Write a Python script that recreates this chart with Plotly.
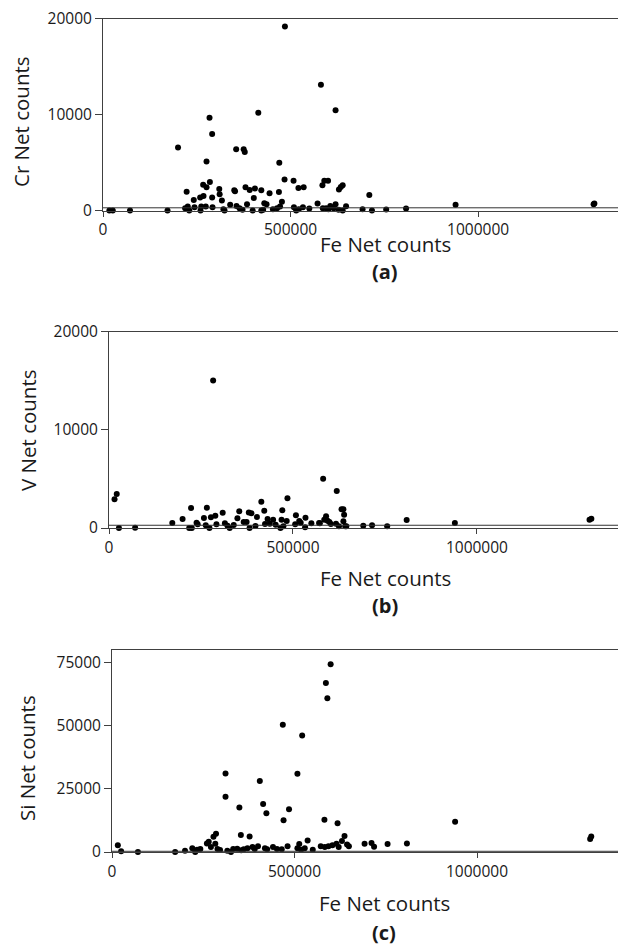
import plotly.graph_objects as go

# ---------------- data ----------------
# Panel (a): Fe vs Cr
fe_a = [485000, 581000, 620000, 414000, 284000, 291000, 200000, 355000, 375000, 378000,
        276000, 470000, 484000, 508000, 285000, 267000, 276000, 310000, 311000, 380000,
        391000, 405000, 422000, 350000, 352000, 444000, 469000, 521000, 535000, 585000,
        590000, 600000, 629000, 634000, 639000, 223000, 242000, 259000, 268000, 291000,
        317000, 402000, 384000, 430000, 436000, 477000, 572000, 620000, 710000, 940000,
        1308000, 1310000, 808000, 755000, 717000, 692000, 648000,
        17000, 26000, 72000, 172000, 219000, 226000, 230000, 244000, 260000, 262000,
        274000, 292000, 321000, 324000, 339000, 356000, 364000, 372000, 399000, 422000,
        427000, 453000, 464000, 472000, 509000, 515000, 522000, 533000, 550000, 586000,
        595000, 601000, 606000, 615000, 628000, 639000]
cr_a = [19170, 13100, 10450, 10170, 9655, 7965, 6550, 6380, 6380, 6100,
        5100, 4970, 3240, 3100, 2965, 2690, 2410, 2240, 1690, 2410,
        2140, 2280, 2100, 2100, 2000, 1790, 1930, 2345, 2410, 2620,
        3100, 3100, 2200, 2450, 2620, 1965, 1100, 1345, 1520, 1345,
        1035, 1310, 655, 760, 655, 900, 725, 655, 1620, 590,
        655, 725, 200, 100, 0, 140, 450,
        0, 0, 0, 0, 240, 410, 0, 345, 0, 410,
        410, 345, 120, 0, 590, 480, 240, 70, 0, 0,
        70, 120, 240, 410, 345, 0, 120, 345, 200, 240,
        240, 120, 480, 240, 70, 0]

# Panel (b): Fe vs V
fe_b = [283000, 582000, 619000, 15000, 21000, 485000, 414000, 223000, 266000, 309000,
        354000, 380000, 387000, 422000, 471000, 508000, 534000, 590000, 632000, 637000,
        639000, 200000, 172000, 258000, 277000, 289000, 349000, 374000, 402000, 431000,
        446000, 469000, 483000, 517000, 550000, 573000, 594000, 599000, 617000, 637000,
        809000, 940000, 1306000, 1311000, 691000, 715000, 756000, 27000, 71000, 218000,
        225000, 238000, 241000, 263000, 273000, 292000, 315000, 322000, 328000, 339000,
        366000, 382000, 398000, 424000, 437000, 453000, 466000, 474000, 506000, 521000,
        533000, 571000, 585000, 603000, 625000, 642000, 645000]
v_b = [15020, 5020, 3760, 2915, 3460, 3020, 2680, 2030, 2070, 1560,
       1695, 1590, 1490, 1760, 1800, 1290, 1050, 1190, 1900, 1900,
       1355, 915, 510, 1020, 1085, 1250, 980, 610, 1120, 915,
       850, 850, 710, 710, 475, 475, 745, 610, 440, 680,
       815, 510, 850, 950, 240, 270, 170, 0, 35, 0,
       0, 540, 370, 270, 0, 370, 475, 240, 0, 305,
       610, 0, 200, 405, 440, 340, 0, 170, 370, 540,
       70, 510, 850, 405, 170, 170, 170]

# Panel (c): Fe vs Si
fe_c = [599000, 586000, 590000, 468000, 521000, 311000, 508000, 405000, 311000, 414000,
        485000, 349000, 423000, 470000, 582000, 618000, 940000, 1310000, 1313000, 285000,
        278000, 353000, 377000, 637000, 536000, 808000, 755000, 711000, 692000, 718000,
        16000, 25000, 71000, 173000, 200000, 220000, 228000, 233000, 242000, 260000,
        265000, 271000, 283000, 289000, 296000, 316000, 326000, 332000, 343000, 354000,
        361000, 371000, 385000, 391000, 400000, 419000, 425000, 441000, 452000, 465000,
        481000, 508000, 513000, 518000, 528000, 550000, 572000, 583000, 593000, 604000,
        615000, 621000, 630000, 644000, 649000]
si_c = [74210, 66750, 60730, 50260, 46070, 31020, 30890, 28010, 21860, 18980,
        16880, 17540, 15310, 12565, 12700, 11390, 11910, 5100, 6150, 7200,
        6020, 6675, 6150, 6280, 4580, 3400, 3140, 3530, 3270, 2090,
        2620, 260, 0, 0, 520, 1440, 0, 920, 1180, 3400,
        4060, 1960, 3270, 1180, 790, 520, 0, 1180, 1310, 650,
        1050, 1440, 1960, 1180, 2230, 1440, 1050, 1960, 1180, 1050,
        2230, 1440, 3140, 920, 1440, 920, 2230, 1960, 2230, 2620,
        3270, 1960, 4320, 3010, 2230]

# reference (limit) line drawn just above zero in each panel
limit_level = 280

x_title = "Fe Net counts"
y_titles = ["Cr Net counts", "V Net counts", "Si Net counts"]
panel_labels = ["(a)", "(b)", "(c)"]
x_tickvals = [0, 500000, 1000000]
x_ticktext = ["0", "500000", "1000000"]
y_tickvals = [[0, 10000, 20000], [0, 10000, 20000], [0, 25000, 50000, 75000]]
y_ranges = [[0, 20000], [0, 20000], [0, 80000]]

# ---------------- layout geometry ----------------
W, H = 626, 948
OFF = 8  # page body margin offsets the figure on screen
FONT = "Open Sans, Liberation Sans, sans-serif"
AX = "#404040"
TXT = "#1a1a1a"

def px(v):
    return (v - OFF) / W

def py(v):
    return 1 - (v - OFF) / H

# (left, right, top, bottom) in screen pixels; x-range max
geo = [
    (103, 630, 18.5, 210.5, 1405000),
    (109, 630, 331.5, 528, 1416000),
    (112, 623, 649.5, 852, 1400000),
]
title_pos = [  # (x center, fe title y, panel label y, y title x, y title y)
    (385, 244, 271, 21, 122),
    (385, 578, 605, 28, 430),
    (384, 903, 932, 27, 758),
]

fig = go.Figure()
series = [(fe_a, cr_a), (fe_b, v_b), (fe_c, si_c)]
layout = {}
annotations = []
shapes = []
for i, ((xs, ys), g, tp) in enumerate(zip(series, geo, title_pos)):
    n = "" if i == 0 else str(i + 1)
    l, r, t, b, xmax = g
    fig.add_trace(go.Scatter(
        x=xs, y=ys, mode="markers",
        marker=dict(color="black", size=6, line=dict(width=0)),
        xaxis="x" + n, yaxis="y" + n, showlegend=False, hoverinfo="skip",
        cliponaxis=False))
    layout["xaxis" + n] = dict(
        domain=[px(l), px(r)], range=[0, xmax], anchor="y" + n, automargin=False,
        tickvals=x_tickvals, ticktext=x_ticktext, ticklabeloverflow="allow",
        showgrid=False, zeroline=False, showline=True, linecolor=AX, linewidth=1,
        mirror=True, ticks="outside", ticklen=5, tickcolor=AX,
        tickfont=dict(family=FONT, size=15.5, color=TXT),
    )
    layout["yaxis" + n] = dict(
        domain=[py(b), py(t)], range=y_ranges[i], anchor="x" + n, automargin=False,
        tickvals=y_tickvals[i], ticktext=[str(v) for v in y_tickvals[i]],
        ticklabeloverflow="allow",
        showgrid=False, zeroline=False, showline=True, linecolor=AX, linewidth=1,
        mirror=True, ticks="outside", ticklen=7, tickcolor=AX,
        tickfont=dict(family=FONT, size=15.5, color=TXT),
    )
    xd = ("x" + n + " domain") if n else "x domain"
    yd = ("y" + n + " domain") if n else "y domain"
    # top border of the plot frame
    shapes.append(dict(type="line", xref=xd, yref=yd, x0=0, x1=1, y0=1, y1=1,
                       line=dict(color=AX, width=1)))
    # limit line just above zero
    shapes.append(dict(type="line", xref=xd, yref="y" + n, x0=0, x1=1,
                       y0=limit_level, y1=limit_level,
                       line=dict(color="#333", width=1)))
    xc, fy, ly, ytx, yty = tp
    annotations.append(dict(text=x_title, x=px(xc), y=py(fy), xref="paper", yref="paper",
                            showarrow=False, xanchor="center", yanchor="middle",
                            font=dict(family=FONT, size=20.5, color=TXT)))
    annotations.append(dict(text="<b>" + panel_labels[i] + "</b>", x=px(xc), y=py(ly),
                            xref="paper", yref="paper", showarrow=False,
                            xanchor="center", yanchor="middle",
                            font=dict(family=FONT, size=20, color=TXT)))
    annotations.append(dict(text=y_titles[i], x=px(ytx), y=py(yty), xref="paper",
                            yref="paper", showarrow=False, textangle=-90,
                            xanchor="center", yanchor="middle",
                            font=dict(family=FONT, size=20.5, color=TXT)))

fig.update_layout(
    width=W, height=H, margin=dict(l=0, r=0, t=0, b=0, pad=0, autoexpand=False),
    paper_bgcolor="white", plot_bgcolor="white",
    annotations=annotations, shapes=shapes, **layout)

fig.write_html("out.html")
